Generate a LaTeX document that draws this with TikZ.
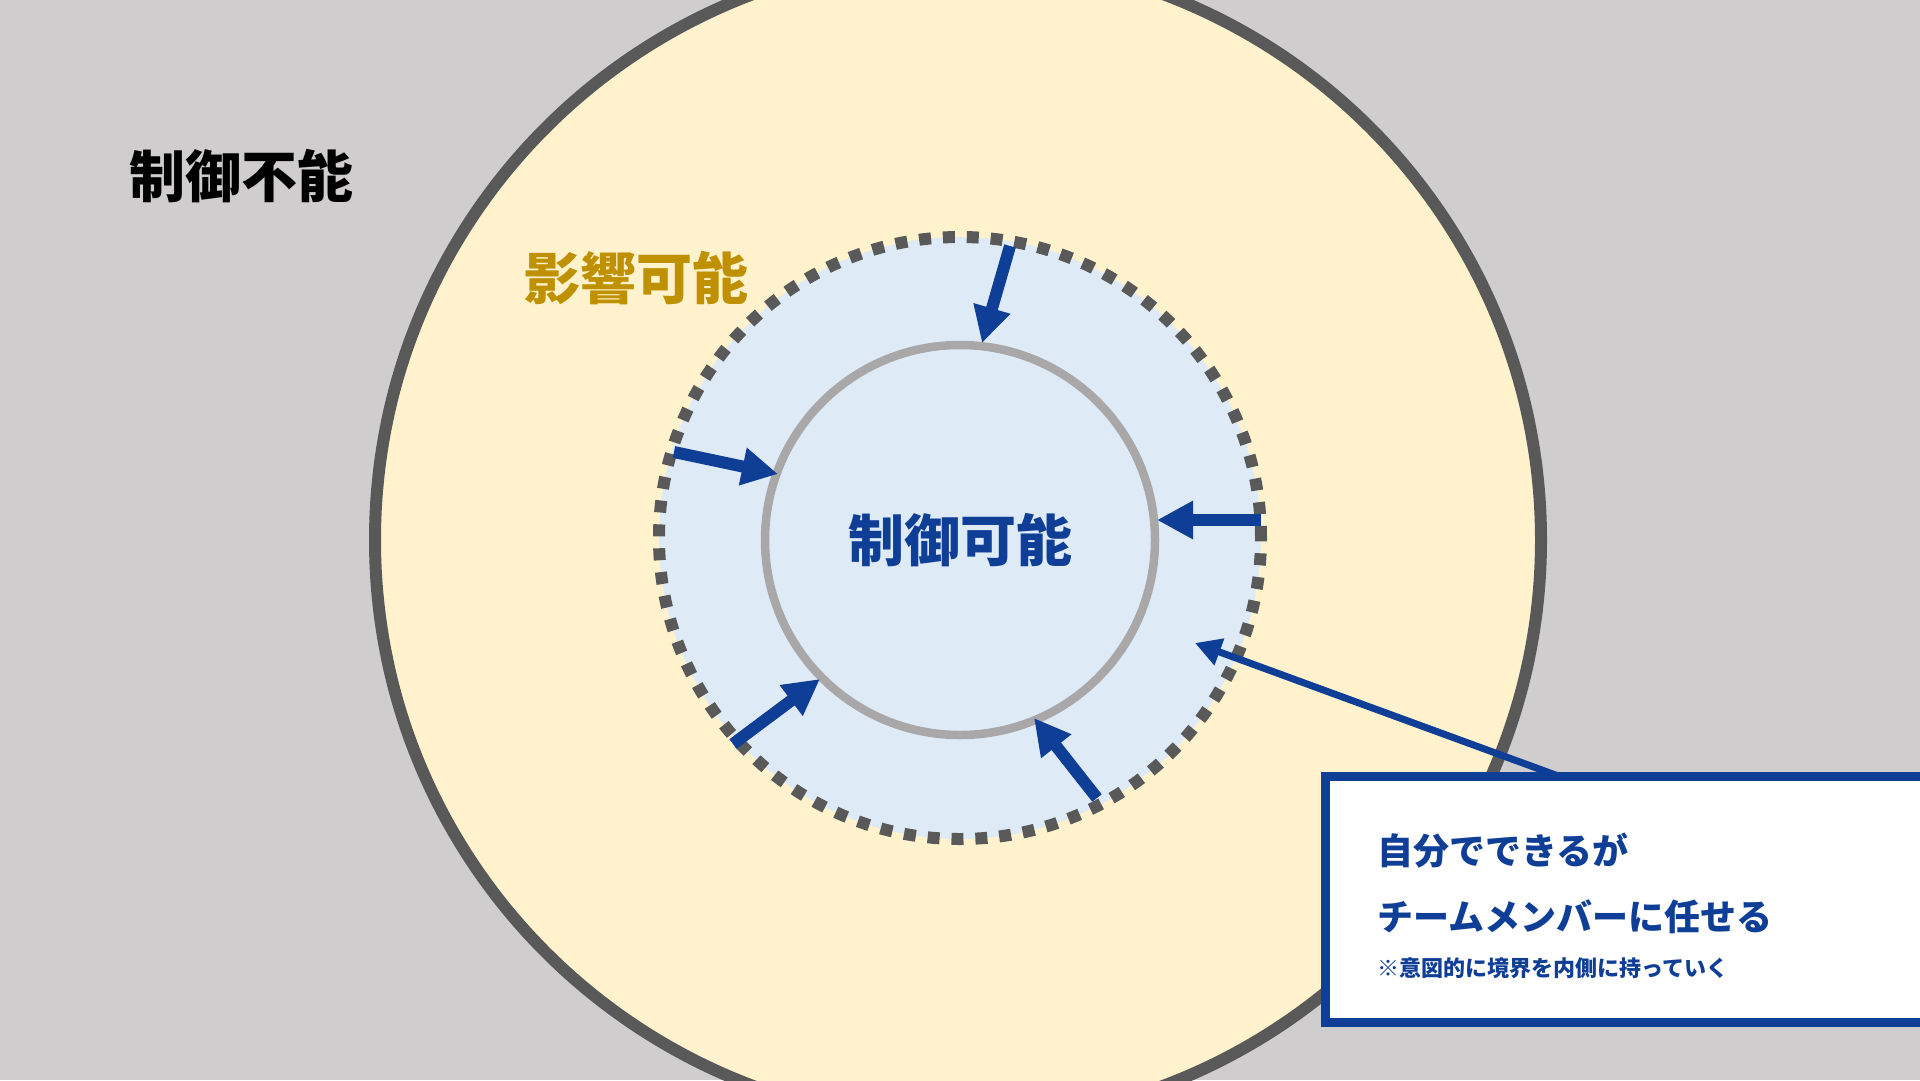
\documentclass[tikz,border=0pt]{standalone}
\usepackage{fontspec}
\newfontfamily\jp{Noto Sans CJK JP}
\usetikzlibrary{arrows.meta}
\definecolor{bggray}{HTML}{CFCDCE}
\definecolor{softyellow}{HTML}{FFF2CC}
\definecolor{softblue}{HTML}{DEEBF7}
\definecolor{darkgray}{HTML}{595959}
\definecolor{ringgray}{HTML}{A9A7A8}
\definecolor{deepblue}{HTML}{0F3E96}
\definecolor{gold}{HTML}{BF9000}
\begin{document}
\begin{tikzpicture}[x=1pt,y=-1pt,
  inarrow/.style={draw=deepblue, line width=12pt, -{Triangle[length=36pt,width=36pt]}},
  callarrow/.style={draw=deepblue, line width=7pt, -{Triangle[length=26pt,width=27pt]}},
  bigtitle/.style={font=\jp\bfseries\fontsize{56pt}{60pt}\selectfont, inner sep=0pt},
  boxtext/.style={font=\jp\bfseries\fontsize{36pt}{40pt}\selectfont, text=deepblue, anchor=west, inner sep=0pt},
  notetext/.style={font=\jp\bfseries\fontsize{22pt}{26pt}\selectfont, text=deepblue, anchor=west, inner sep=0pt}]
\useasboundingbox (0,0) rectangle (1920,1080);
\clip (0,0) rectangle (1920,1080);
\fill[bggray] (0,0) rectangle (1920,1080);
% circles
\draw[fill=softyellow, draw=darkgray, line width=12pt] (958,540) circle[radius=583pt];
\fill[softblue] (960,538) circle[radius=301pt];
\draw[darkgray, line width=12pt, dash pattern=on 12pt off 11.9pt] (960,538) circle[radius=301pt];
\draw[ringgray, line width=8.5pt] (960,540) circle[radius=195pt];
% labels
\node[bigtitle, text=black] (uncontrol) at (241,176) {制御不能};
\node[bigtitle, text=gold] (influence) at (636,278) {影響可能};
\node[bigtitle, text=deepblue] (control) at (960,540) {制御可能};
% arrow endpoints
\coordinate (t1) at (1010,246); \coordinate (h1) at (982,343);
\coordinate (t2) at (674,452);  \coordinate (h2) at (778,474);
\coordinate (t3) at (1261,520); \coordinate (h3) at (1157,520);
\coordinate (t4) at (733,744);  \coordinate (h4) at (820,679);
\coordinate (t5) at (1097,798); \coordinate (h5) at (1034,718);
\coordinate (t6) at (1561,777); \coordinate (h6) at (1195,643);
\draw[inarrow] (t1) -- (h1);
\draw[inarrow] (t2) -- (h2);
\draw[inarrow] (t3) -- (h3);
\draw[inarrow] (t4) -- (h4);
\draw[inarrow] (t5) -- (h5);
\draw[callarrow] (t6) -- (h6);
% callout box
\draw[fill=white, draw=deepblue, line width=9pt] (1325.5,776.5) rectangle (1935,1022.5);
\node[boxtext] (line1) at (1377,851) {自分でできるが};
\node[boxtext] (line2) at (1377,917) {チームメンバーに任せる};
\node[notetext] (line3) at (1377,968) {※意図的に境界を内側に持っていく};
\end{tikzpicture}
\end{document}
